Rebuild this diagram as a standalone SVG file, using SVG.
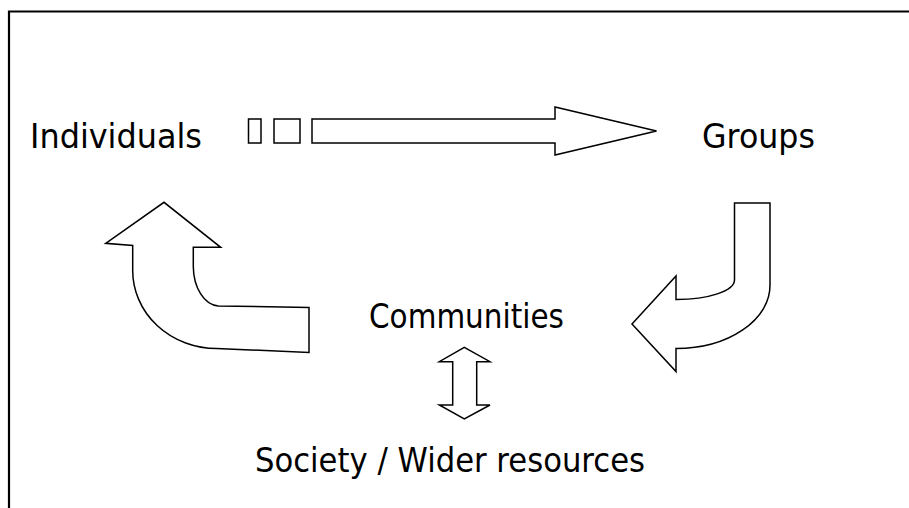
<svg xmlns="http://www.w3.org/2000/svg" width="909" height="508" viewBox="0 0 909 508">
  <style>
    .frame { fill: none; stroke: #000; stroke-width: 2.2; }
    .shape { fill: #fff; stroke: #000; stroke-width: 1.5; stroke-linejoin: miter; }
    .label { font-family: "DejaVu Sans", Tahoma, Verdana, sans-serif; font-size: 34px; fill: #000; }
  </style>
  <rect width="909" height="508" fill="#fff"/>
  <path class="frame" d="M9,508 V11.5 H909"/>

  <g id="individuals">
    <text class="label" x="30" y="148" textLength="172" lengthAdjust="spacingAndGlyphs">Individuals</text>
  </g>
  <g id="groups">
    <text class="label" x="702" y="148" textLength="113" lengthAdjust="spacingAndGlyphs">Groups</text>
  </g>
  <g id="communities">
    <text class="label" x="369" y="328" textLength="195" lengthAdjust="spacingAndGlyphs">Communities</text>
  </g>
  <g id="society">
    <text class="label" x="255" y="472" textLength="390" lengthAdjust="spacingAndGlyphs">Society / Wider resources</text>
  </g>

  <g id="connectors">
    <!-- Individuals to Groups: dashed-tail block arrow -->
    <rect class="shape" x="248.5" y="119" width="12.5" height="24"/>
    <rect class="shape" x="274" y="119" width="26" height="24"/>
    <path class="shape" d="M312,119 H555 V107 L656.5,131 L555,155 V143 H312 Z"/>

    <!-- Groups to Communities: bent arrow -->
    <path class="shape" d="M734.5,203 H770 V285 A94,63 0 0 1 676,348.5 V371.5 L632,324 L676,276 V299.5 A58,19.5 0 0 0 734.5,280 Z"/>

    <!-- Communities to Individuals: bent arrow -->
    <path class="shape" d="M309,307.5 V352.5 L216.7,348.5 A84,78 0 0 1 132.7,270 V245.5 L105.7,243.3 L164,202.3 L220.7,247.3 H193.3 V266.5 A26,40 0 0 0 218.3,306 Z"/>

    <!-- Communities and Society: two-way arrow -->
    <path class="shape" d="M464.3,347.3 L490,361.7 H476.7 V405 H490 L464.3,419 L439.3,405 H452.7 V361.7 H439.3 Z"/>
  </g>
</svg>
